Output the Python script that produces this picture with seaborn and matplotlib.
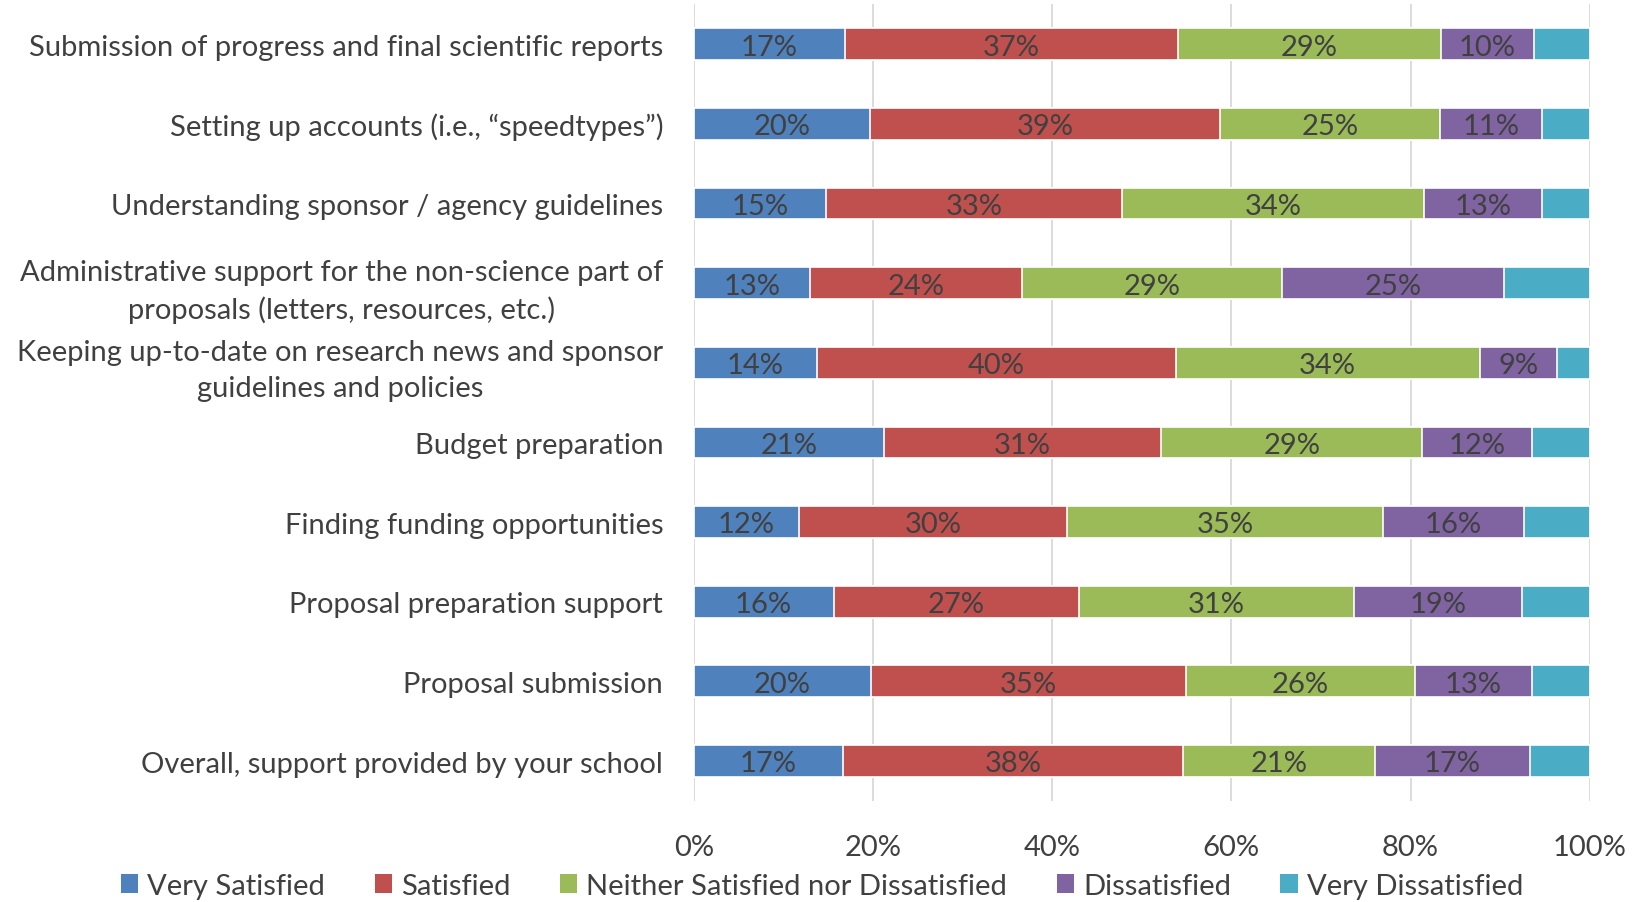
import numpy as np
import pandas as pd
import matplotlib
matplotlib.use("Agg")
import matplotlib.pyplot as plt
import seaborn as sns
from matplotlib.ticker import PercentFormatter
from matplotlib.patches import Patch

categories = [
    "Submission of progress and final scientific reports",
    "Setting up accounts (i.e., \u201cspeedtypes\u201d)",
    "Understanding sponsor / agency guidelines",
    "Administrative support for the non-science part of\nproposals (letters, resources, etc.)",
    "Keeping up-to-date on research news and sponsor\nguidelines and policies",
    "Budget preparation",
    "Finding funding opportunities",
    "Proposal preparation support",
    "Proposal submission",
    "Overall, support provided by your school",
]
series = ["Very Satisfied", "Satisfied", "Neither Satisfied nor Dissatisfied",
          "Dissatisfied", "Very Dissatisfied"]

very_satisfied = [16.9, 19.7, 14.8, 13.0, 13.8, 21.2, 11.7, 15.6, 19.8, 16.7]
satisfied = [37.1, 39.0, 33.0, 23.6, 40.0, 31.0, 30.0, 27.4, 35.1, 37.9]
neither = [29.4, 24.6, 33.7, 29.1, 33.9, 29.1, 35.2, 30.7, 25.6, 21.4]
dissatisfied = [10.4, 11.4, 13.2, 24.7, 8.6, 12.2, 15.8, 18.7, 13.0, 17.3]
very_dissatisfied = [6.2, 5.3, 5.3, 9.6, 3.7, 6.5, 7.3, 7.6, 6.5, 6.7]

colors = ["#4F81BD", "#C0504D", "#9BBB59", "#8064A2", "#4BACC6"]
text_color = "#404040"

sns.set_theme(style="white")
plt.rcParams["font.family"] = ["Lato", "DejaVu Sans"]

vals = np.array([very_satisfied, satisfied, neither, dissatisfied, very_dissatisfied]).T
vals = vals / vals.sum(axis=1, keepdims=True)
cum = np.cumsum(vals, axis=1)

fig = plt.figure(figsize=(16.44, 9.03), dpi=100)
ax = fig.add_axes([0.422, 0.112, 0.545, 0.882])

for j in range(len(series) - 1, -1, -1):
    df = pd.DataFrame({"cat": categories, "v": cum[:, j]})
    sns.barplot(data=df, x="v", y="cat", order=categories, color=colors[j],
                width=0.4, edgecolor="white", linewidth=1.2, ax=ax,
                saturation=1, zorder=3)

for i in range(len(categories)):
    for j in range(4):
        left = cum[i, j] - vals[i, j]
        ax.text(left + vals[i, j] / 2, i + 0.03, f"{round(vals[i, j]*100):d}%",
                ha="center", va="center", fontsize=21, color=text_color, zorder=5)

ax.set_xlim(0, 1)
ax.set_ylim(len(categories) - 0.5, -0.5)
ax.xaxis.set_major_formatter(PercentFormatter(1.0, decimals=0))
ax.set_xticks(np.linspace(0, 1, 6))
ax.grid(axis="x", color="#D9D9D9", linewidth=1.3, zorder=0)
ax.set_axisbelow(True)
for s in ax.spines.values():
    s.set_visible(False)
ax.set_xlabel("")
ax.set_ylabel("")
ax.tick_params(axis="x", labelsize=21, colors=text_color, pad=24, length=0)
ax.tick_params(axis="y", labelsize=21, colors=text_color, pad=22, length=0)
for lab in ax.get_yticklabels():
    lab.set_multialignment("center")
    lab.set_linespacing(1.45)

handles = [Patch(facecolor=c, edgecolor="none") for c in colors]
fig.legend(handles, series, loc="center", bbox_to_anchor=(0.5, 0.018),
           ncol=5, frameon=False, fontsize=21, handlelength=0.6, handleheight=0.6,
           handletextpad=0.3, columnspacing=1.7, labelcolor=text_color)

fig.savefig("out.png", dpi=100, facecolor="white")
